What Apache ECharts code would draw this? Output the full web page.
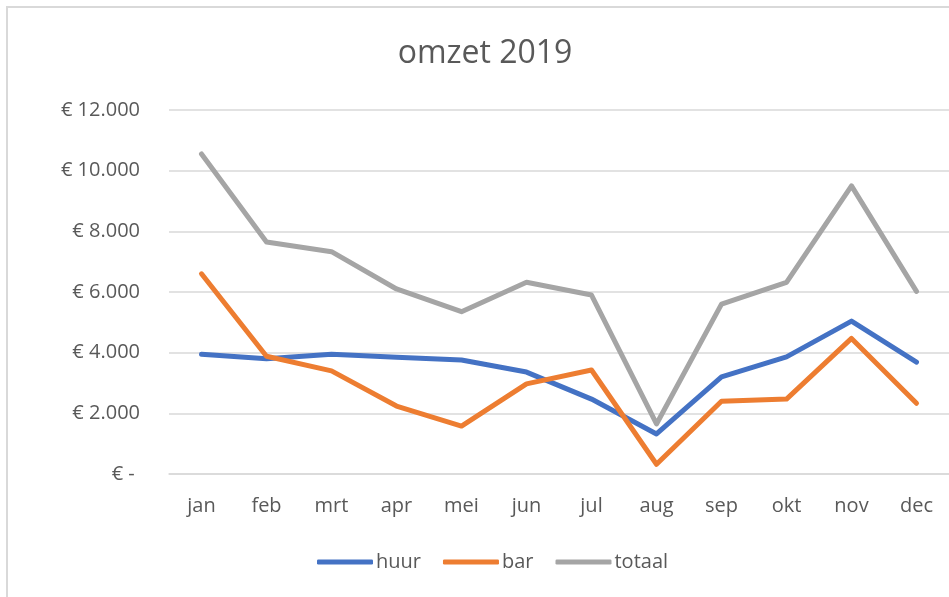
<!DOCTYPE html>
<html>
<head>
<meta charset="utf-8">
<script src="https://cdn.jsdelivr.net/npm/echarts@6/dist/echarts.min.js"></script>
<style>
  html, body { margin: 0; padding: 0; background: #fff; }
  #chart { width: 949px; height: 597px; }
</style>
</head>
<body>
<div id="chart"></div>
<script>
  var months = ['jan', 'feb', 'mrt', 'apr', 'mei', 'jun', 'jul', 'aug', 'sep', 'okt', 'nov', 'dec'];
  var huur = [3950, 3800, 3950, 3850, 3760, 3360, 2470, 1320, 3200, 3860, 5040, 3690];
  var bar = [6600, 3880, 3400, 2240, 1580, 2970, 3430, 320, 2400, 2470, 4470, 2330];
  var totaal = [10550, 7650, 7330, 6100, 5350, 6320, 5900, 1650, 5600, 6320, 9500, 6020];

  var textColor = '#595959';
  var fontFamily = '"Open Sans", "Noto Sans", sans-serif';

  var line = function (name, data, color) {
    return {
      name: name,
      type: 'line',
      data: data,
      showSymbol: false,
      symbol: 'none',
      lineStyle: { color: color, width: 5, cap: 'round', join: 'round' },
      itemStyle: { color: color }
    };
  };

  var option = {
    animation: false,
    textStyle: { fontFamily: fontFamily },
    title: {
      text: 'omzet 2019',
      left: 480,
      textAlign: 'center',
      top: 33,
      textStyle: { color: textColor, fontSize: 32, fontWeight: 'normal', fontFamily: fontFamily }
    },
    legend: {
      data: ['huur', 'bar', 'totaal'],
      bottom: 20,
      left: 312,
      itemWidth: 56,
      itemHeight: 5,
      itemGap: 22,
      icon: 'roundRect',
      textStyle: { color: textColor, fontSize: 20, padding: [0, 0, 0, -2] }
    },
    grid: { left: 169, top: 110, width: 790, height: 364 },
    xAxis: {
      type: 'category',
      data: months,
      boundaryGap: true,
      axisLine: { lineStyle: { color: '#D9D9D9', width: 1.5 } },
      axisTick: { show: false },
      axisLabel: { color: textColor, fontSize: 20, margin: 22 }
    },
    yAxis: {
      type: 'value',
      min: 0,
      max: 12000,
      interval: 2000,
      axisLine: { show: false },
      axisTick: { show: false },
      splitLine: { lineStyle: { color: '#D9D9D9', width: 1.5 } },
      axisLabel: {
        color: textColor,
        fontSize: 20,
        margin: 29,
        formatter: function (v) {
          if (v === 0) return '€ - ';
          return '€ ' + (v / 1000).toFixed(0) + '.000';
        }
      }
    },
    graphic: [{
      type: 'rect',
      shape: { x: 7, y: 7, width: 1000, height: 640 },
      style: { fill: 'none', stroke: '#D9D9D9', lineWidth: 2 },
      silent: true
    }],
    series: [
      line('huur', huur, '#4472C4'),
      line('bar', bar, '#ED7D31'),
      line('totaal', totaal, '#A5A5A5')
    ]
  };

  var myChart = echarts.init(document.getElementById('chart'));
  myChart.setOption(option);
</script>
</body>
</html>
